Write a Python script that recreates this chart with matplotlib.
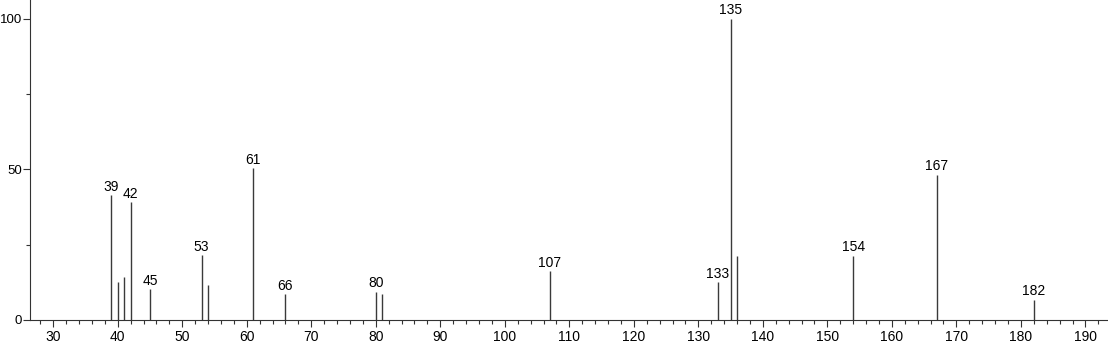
import matplotlib
matplotlib.use("Agg")
import matplotlib.pyplot as plt
from matplotlib.ticker import MultipleLocator

plt.rcParams['font.family'] = ['Liberation Sans', 'DejaVu Sans']

mz = [39, 40, 41, 42, 45, 53, 54, 61, 66, 80, 81, 107, 133, 135, 136, 154, 167, 182]
intensity = [41.5, 12.6, 14.3, 39.0, 10.2, 21.5, 11.6, 50.4, 8.6, 9.4, 8.5, 16.2, 12.5, 100.0, 21.3, 21.3, 48.2, 6.8]
labeled = [39, 42, 45, 53, 61, 66, 80, 107, 133, 135, 154, 167, 182]

fig = plt.figure(figsize=(11.08, 3.44), dpi=100)
ax = fig.add_axes([30/1108, 24/344, 1078/1108, 320/344])

ax.vlines(mz, 0, intensity, colors='#3a3a3a', linewidth=1.0)

for m, v in zip(mz, intensity):
    if m in labeled:
        ax.annotate(str(m), (m, v), xytext=(0, 1), textcoords='offset points',
                    ha='center', va='bottom', fontsize=10, color='black')

ax.set_xlim(26.4, 193.5)
ax.set_ylim(0, 106.2)

ax.xaxis.set_major_locator(MultipleLocator(10))
ax.xaxis.set_minor_locator(MultipleLocator(2))
ax.yaxis.set_major_locator(MultipleLocator(50))
ax.yaxis.set_minor_locator(MultipleLocator(25))

ax.tick_params(axis='both', which='major', length=5, width=0.8, color='#333333')
ax.tick_params(axis='x', which='major', pad=2, labelsize=10)
ax.tick_params(axis='y', which='major', pad=0.8, labelsize=9.5)
ax.tick_params(axis='both', which='minor', length=3, width=0.8, color='#333333')

for s in ['top', 'right']:
    ax.spines[s].set_visible(False)
for s in ['left', 'bottom']:
    ax.spines[s].set_color('#333333')
    ax.spines[s].set_linewidth(0.8)

fig.savefig('out.png', dpi=100)
